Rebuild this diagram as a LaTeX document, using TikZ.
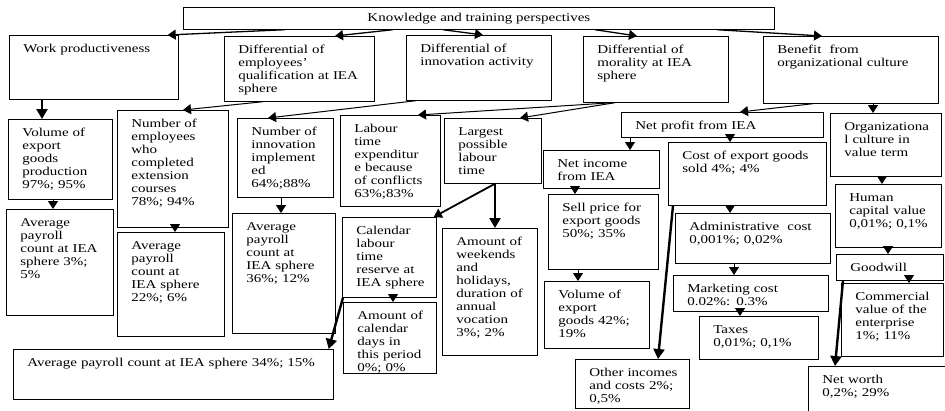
\documentclass[tikz,border=0pt]{standalone}
\usepackage{fontspec}
\setmainfont{Liberation Serif}[FakeStretch=1.25]
\usetikzlibrary{arrows.meta}

\tikzset{
  hd/.style={draw, line width=0.7pt, anchor=north west, inner sep=0pt, minimum width=591pt, minimum height=22pt},
  bx/.style={draw, line width=0.7pt, anchor=north west, align=left, inner xsep=0pt, inner ysep=0pt, text height=17pt, execute at begin node={\leftskip=14pt}},
  ar/.style={-{Triangle[length=8pt,width=10pt]}, line width=1pt},
  tk/.style={-{Triangle[length=10pt,width=11pt]}, line width=2.4pt},
}

\begin{document}
\begin{tikzpicture}[x=1pt, y=-1pt, font=\fontsize{12}{13}\selectfont]
		\useasboundingbox (0,0) rectangle (945,410);
		% perspectives
		\node[hd] (kt) at (183,7) {Knowledge and training perspectives};
		\node[bx, text width=169pt, text depth=47pt] (wp) at (9,35) {Work productiveness};
		\node[bx, text width=150pt, text depth=48pt] (deq) at (224,36) {Differential of\\ employees'\\ qualification at IEA\\ sphere};
		\node[bx, text width=145pt, text depth=48pt] (dia) at (406,35) {Differential of\\ innovation activity};
		\node[bx, text width=145pt, text depth=49pt] (dmo) at (583,36) {Differential of\\ morality at IEA\\ sphere};
		\node[bx, text width=175pt, text depth=50pt] (boc) at (763,36) {Benefit\ \ from\\ organizational culture};
		% left part
		\node[bx, text width=104pt, text depth=63pt] (vep) at (8,119) {Volume of\\ export\\ goods\\ production\\ 97\%; 95\%};
		\node[bx, text width=111pt, text depth=100pt] (nec) at (117,110) {Number of\\ employees\\ who\\ completed\\ extension\\ courses\\ 78\%; 94\%};
		\node[bx, text width=96pt, text depth=62pt] (nii) at (237,118) {Number of\\ innovation\\ implement\\ ed\\ 64\%;88\%};
		\node[bx, text width=107pt, text depth=89pt] (ap1) at (6,209) {Average\\ payroll\\ count at IEA\\ sphere 3\%;\\ 5\%};
		\node[bx, text width=107pt, text depth=87pt] (ap2) at (117,232) {Average\\ payroll\\ count at\\ IEA sphere\\ 22\%; 6\%};
		\node[bx, text width=103pt, text depth=103pt] (ap3) at (232,213) {Average\\ payroll\\ count at\\ IEA sphere\\ 36\%; 12\%};
		\node[bx, text width=320pt, text depth=33pt] (ap4) at (13,349) {Average payroll count at IEA sphere 34\%; 15\%};
		% labour time
		\node[bx, text width=100pt, text depth=74pt] (lte) at (340,115) {Labour\\ time\\ expenditur\\ e because\\ of conflicts\\ 63\%;83\%};
		\node[bx, text width=97pt, text depth=48pt] (lpl) at (444,118) {Largest\\ possible\\ labour\\ time};
		\node[bx, text width=94pt, text depth=63pt] (clt) at (342,217) {Calendar\\ labour\\ time\\ reserve at\\ IEA sphere};
		\node[bx, text width=95pt, text depth=110pt] (awh) at (442,228) {Amount of\\ weekends\\ and\\ holidays,\\ duration of\\ annual\\ vocation\\ 3\%; 2\%};
		\node[bx, text width=93pt, text depth=54pt] (acd) at (343,302) {Amount of\\ calendar\\ days in\\ this period\\ 0\%; 0\%};
		% profit
		\node[bx, text width=202pt, text depth=8pt] (npi) at (621,112) {Net profit from IEA};
		\node[bx, text width=116pt, text depth=21pt] (nin) at (543,150) {Net income\\ from IEA};
		\node[bx, text width=110pt, text depth=58pt] (spe) at (548,194) {Sell price for\\ export goods\\ 50\%; 35\%};
		\node[bx, text width=105pt, text depth=50pt] (veg) at (544,281) {Volume of\\ export\\ goods 42\%;\\ 19\%};
		\node[bx, text width=114pt, text depth=32pt] (oic) at (575,359) {Other incomes\\ and costs 2\%;\\ 0,5\%};
		\node[bx, text width=158pt, text depth=46pt] (cgs) at (668,142) {Cost of export goods\\ sold 4\%; 4\%};
		\node[bx, text width=155pt, text depth=33pt] (adm) at (675,213) {Administrative\ \ cost\\ 0,001\%; 0,02\%};
		\node[bx, text width=155pt, text depth=19pt] (mkt) at (673,275) {Marketing cost\\ 0.02\%: 0.3\%};
		\node[bx, text width=119pt, text depth=26pt] (tax) at (699,316) {Taxes\\ 0,01\%; 0,1\%};
		% culture
		\node[bx, text width=111pt, text depth=46pt] (ocv) at (830,113) {Organizationa\\ l culture in\\ value term};
		\node[bx, text width=106pt, text depth=46pt] (hcv) at (835,184) {Human\\ capital value\\ 0,01\%; 0,1\%};
		\node[bx, text width=107pt, text depth=9pt] (gdw) at (836,254) {Goodwill};
		\node[bx, text width=102pt, text depth=56pt] (cve) at (841,283) {Commercial\\ value of the\\ enterprise\\ 1\%; 11\%};
		\node[bx, text width=142pt, text depth=33pt] (nwo) at (808,366) {Net worth\\ 0,2\%; 29\%};

		\draw[ar, line width=1.3pt] ([xshift=102pt]kt.south west) -- ([xshift=-11pt]wp.north east);
		\draw[ar, line width=1.3pt] ([xshift=210pt]kt.south west) -- ([xshift=111pt]deq.north west);
		\draw[ar, line width=1.3pt] ([xshift=260pt]kt.south west) -- ([xshift=77pt]dia.north west);
		\draw[ar, line width=1.3pt] ([xshift=412pt]kt.south west) -- ([xshift=54pt]dmo.north west);
		\draw[ar, line width=1.3pt] ([xshift=534pt]kt.south west) -- ([xshift=59pt]boc.north west);
		\draw[tk] ([xshift=33pt]wp.south west) -- ([xshift=34pt]vep.north west);
		\draw[ar] ([xshift=39pt]deq.south west) -- ([xshift=66pt]nec.north west);
		\draw[ar] ([xshift=10pt]dia.south west) -- ([xshift=31pt]nii.north west);
		\draw[ar] ([xshift=30pt]dmo.south west) -- ([xshift=78pt]lte.north west);
		\draw[ar] ([xshift=32pt]dmo.south west) -- ([xshift=76pt]lpl.north west);
		\draw[ar] ([xshift=50pt]boc.south west) -- ([xshift=119pt]npi.north west);
		\draw[ar] ([xshift=110pt]boc.south west) -- ([xshift=43pt]ocv.north west);
		\draw[ar] ([xshift=45pt]vep.south west) -- ([xshift=47pt]ap1.north west);
		\draw[ar] ([xshift=58pt]nec.south west) -- ([xshift=58pt]ap2.north west);
		\draw[ar] ([xshift=44pt]nii.south west) -- ([xshift=49pt]ap3.north west);
		\draw[ar, line width=1.8pt] ([xshift=51pt]lpl.south west) -- ([xshift=-3pt]clt.north east);
		\draw[tk] ([xshift=51pt]lpl.south west) -- ([xshift=53pt]awh.north west);
		\draw[tk] ([xshift=1pt]clt.south west) -- ([xshift=-5pt]ap4.north east);
		\draw[ar] ([xshift=51pt]clt.south west) -- ([xshift=50pt]acd.north west);
		\draw[ar] ([xshift=9pt]npi.south west) -- ([xshift=87pt]nin.north west);
		\draw[ar] ([xshift=109pt]npi.south west) -- ([xshift=62pt]cgs.north west);
		\draw[ar] ([xshift=32pt]nin.south west) -- ([xshift=27pt]spe.north west);
		\draw[ar] ([xshift=30pt]spe.south west) -- ([xshift=34pt]veg.north west);
		\draw[tk] ([xshift=5pt]cgs.south west) -- ([xshift=83pt]oic.north west);
		\draw[ar] ([xshift=62pt]cgs.south west) -- ([xshift=55pt]adm.north west);
		\draw[ar] ([xshift=59pt]adm.south west) -- ([xshift=61pt]mkt.north west);
		\draw[ar] ([xshift=67pt]mkt.south west) -- ([xshift=41pt]tax.north west);
		\draw[ar] ([xshift=52pt]ocv.south west) -- ([xshift=47pt]hcv.north west);
		\draw[ar] ([xshift=53pt]hcv.south west) -- ([xshift=52pt]gdw.north west);
		\draw[ar] ([xshift=73pt]gdw.south west) -- ([xshift=68pt]cve.north west);
		\draw[tk] ([xshift=7pt]gdw.south west) -- ([xshift=27pt]nwo.north west);
	\end{tikzpicture}
\end{document}
